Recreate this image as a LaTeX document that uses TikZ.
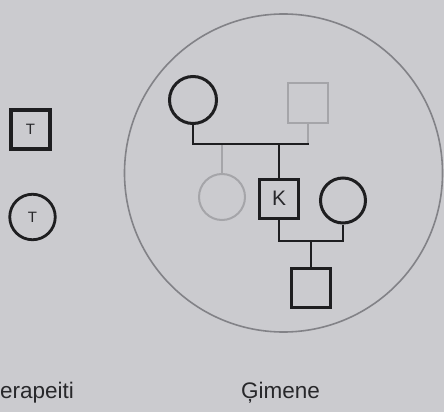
\documentclass[tikz,border=0pt]{standalone}
\usepackage{fontspec}
\setmainfont{Liberation Sans}
\definecolor{bg}{RGB}{203,203,207}
\definecolor{ink}{RGB}{30,30,32}
\definecolor{faint}{RGB}{165,165,169}
\definecolor{ring}{RGB}{130,130,135}
\definecolor{txt}{RGB}{40,40,43}
\begin{document}
\begin{tikzpicture}[x=1pt,y=-1pt,
  sq/.style={draw=ink,line width=3pt,rectangle,minimum size=39pt,inner sep=0pt},
  ci/.style={draw=ink,line width=3pt,circle,minimum size=47pt,inner sep=0pt},
  fsq/.style={draw=faint,line width=2pt,rectangle,minimum size=39.5pt,inner sep=0pt},
  fci/.style={draw=faint,line width=2pt,circle,minimum size=46pt,inner sep=0pt},
  link/.style={draw=ink,line width=2.6pt},
  flink/.style={draw=faint,line width=1.8pt},
  lab/.style={text=txt,font=\fontsize{22.5}{26}\selectfont,inner sep=0pt,anchor=base west}]
\fill[bg] (0,0) rectangle (444,412);
\useasboundingbox (0,0) rectangle (444,412);
% legend
\node[sq,line width=3.6pt,minimum size=39.5pt,font=\fontsize{15}{17}\selectfont,text=txt] (tsq) at (30.5,129.5) {T};
\node[ci,minimum size=45.5pt,line width=2.8pt,font=\fontsize{15}{17}\selectfont,text=txt] (tci) at (32.5,217) {T};
% family ring
\node[draw=ring,line width=1.6pt,circle,minimum size=318pt,inner sep=0pt] (ring) at (283.5,173) {};
% pedigree
\node[ci] (mo) at (193,100) {};
\node[fsq] (fa) at (308,103) {};
\node[fci] (sib) at (222,197) {};
\node[sq,font=\fontsize{21}{24}\selectfont,text=txt] (k) at (279,198.5) {K};
\node[ci,minimum size=45pt] (wi) at (343,200.5) {};
\node[sq] (ch) at (311,287.5) {};
\coordinate (j1) at (279,144);
\coordinate (j2) at (311,241);
\draw[flink] (fa.south) -- (fa.south |- j1);
\draw[flink] (sib.north) -- (sib.north |- j1);
\draw[link] (mo.south) |- ([xshift=1.3pt]fa.south |- j1);
\draw[link] (j1) -- (k.north);
\draw[link] (k.south) |- (wi.south |- j2) -- (wi.south);
\draw[link] (j2) -- (ch.north);
% captions
\node[lab] (cap1) at (0,398) {erapeiti};
\node[lab] (cap2) at (241,398) {Ģimene};
\end{tikzpicture}
\end{document}
